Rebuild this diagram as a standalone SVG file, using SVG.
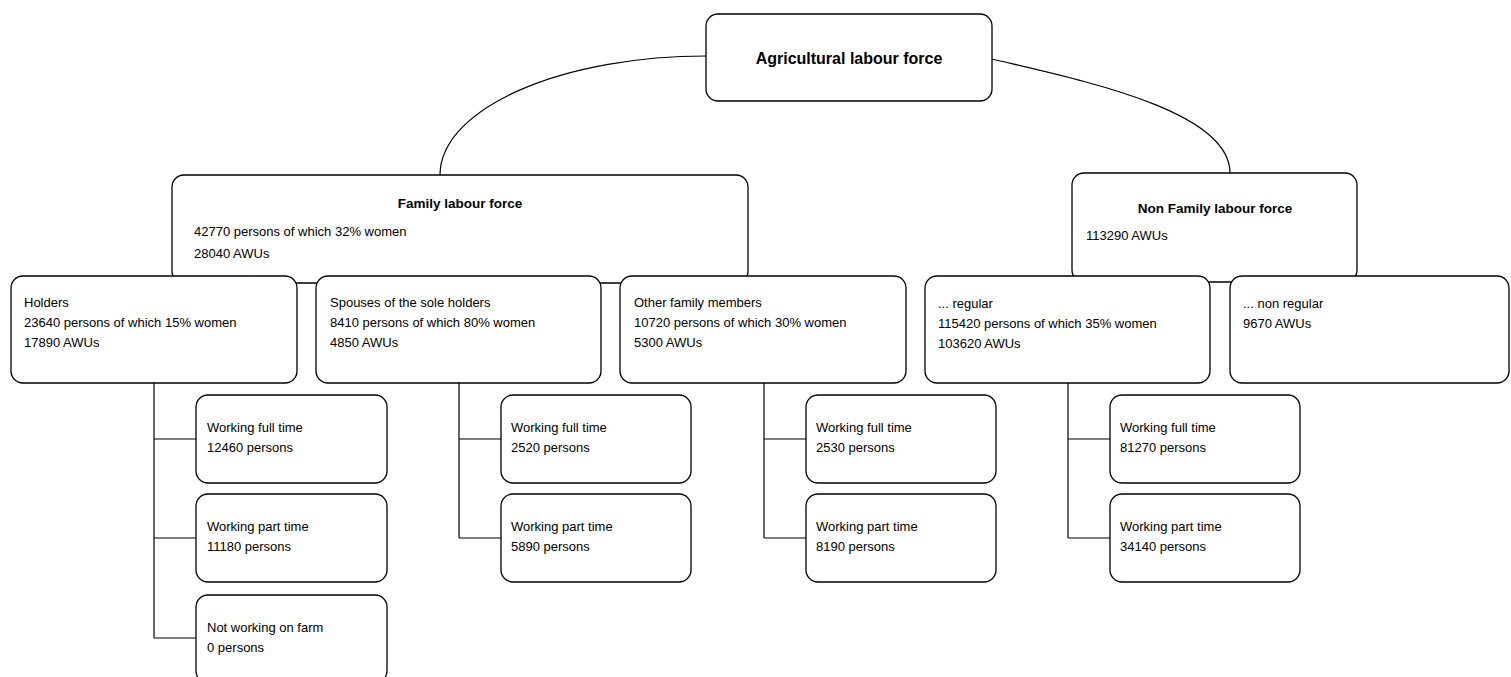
<svg xmlns="http://www.w3.org/2000/svg" width="1511" height="677" viewBox="0 0 1511 677">
<style>
  .box { fill: #ffffff; stroke: #000000; stroke-width: 1.3; }
  .conn { fill: none; stroke: #000000; stroke-width: 1.2; }
  .t { font-family: "Liberation Sans", Arial, sans-serif; font-size: 13px; fill: #000000; }
  .tb { font-family: "Liberation Sans", Arial, sans-serif; font-size: 13.5px; font-weight: bold; fill: #000000; text-anchor: middle; }
  .ttop { font-family: "Liberation Sans", Arial, sans-serif; font-size: 16px; font-weight: bold; fill: #000000; text-anchor: middle; }
</style>
<rect width="1511" height="677" fill="#ffffff"/>
<g id="connectors">
  <path class="conn" d="M706,56 A266,119 0 0 0 440,175"/>
  <path class="conn" d="M992,59 C1080,80 1230,110 1230,173"/>
  <path class="conn" d="M154,383 V638 M154,439 H196 M154,538 H196 M154,638 H196"/>
  <path class="conn" d="M459,383 V538 M459,439 H501 M459,538 H501"/>
  <path class="conn" d="M764,383 V538 M764,439 H806 M764,538 H806"/>
  <path class="conn" d="M1068,383 V538 M1068,439 H1110 M1068,538 H1110"/>
</g>
<g id="node-agri">
  <rect class="box" x="706" y="14" width="286" height="87" rx="12"/>
  <text class="ttop" x="849" y="64">Agricultural labour force</text>
</g>
<g id="node-family">
  <rect class="box" x="172" y="175" width="576" height="108" rx="12"/>
  <text class="tb" x="460" y="208">Family labour force</text>
  <text class="t" x="194" y="236">42770 persons of which 32% women</text>
  <text class="t" x="194" y="258">28040 AWUs</text>
</g>
<g id="node-nonfamily">
  <rect class="box" x="1072" y="173" width="285" height="109" rx="12"/>
  <text class="tb" x="1215" y="213">Non Family labour force</text>
  <text class="t" x="1086" y="240">113290 AWUs</text>
</g>
<g id="node-holders">
  <rect class="box" x="11" y="276" width="286" height="107" rx="12"/>
  <text class="t" x="24" y="307">Holders</text>
  <text class="t" x="24" y="327">23640 persons of which 15% women</text>
  <text class="t" x="24" y="347">17890 AWUs</text>
</g>
<g id="node-spouses">
  <rect class="box" x="316" y="276" width="285" height="107" rx="12"/>
  <text class="t" x="330" y="307">Spouses of the sole holders</text>
  <text class="t" x="330" y="327">8410 persons of which 80% women</text>
  <text class="t" x="330" y="347">4850 AWUs</text>
</g>
<g id="node-other">
  <rect class="box" x="620" y="276" width="286" height="107" rx="12"/>
  <text class="t" x="634" y="307">Other family members</text>
  <text class="t" x="634" y="327">10720 persons of which 30% women</text>
  <text class="t" x="634" y="347">5300 AWUs</text>
</g>
<g id="node-regular">
  <rect class="box" x="925" y="276" width="285" height="107" rx="12"/>
  <text class="t" x="938" y="308">... regular</text>
  <text class="t" x="938" y="328">115420 persons of which 35% women</text>
  <text class="t" x="938" y="348">103620 AWUs</text>
</g>
<g id="node-nonregular">
  <rect class="box" x="1230" y="276" width="279" height="107" rx="12"/>
  <text class="t" x="1243" y="308">... non regular</text>
  <text class="t" x="1243" y="328">9670 AWUs</text>
</g>
<g id="node-holders-full">
  <rect class="box" x="196" y="395" width="191" height="88" rx="12"/>
  <text class="t" x="207" y="432">Working full time</text>
  <text class="t" x="207" y="452">12460 persons</text>
</g>
<g id="node-holders-part">
  <rect class="box" x="196" y="494" width="191" height="88" rx="12"/>
  <text class="t" x="207" y="531">Working part time</text>
  <text class="t" x="207" y="551">11180 persons</text>
</g>
<g id="node-holders-not">
  <rect class="box" x="196" y="595" width="191" height="88" rx="12"/>
  <text class="t" x="207" y="632">Not working on farm</text>
  <text class="t" x="207" y="652">0 persons</text>
</g>
<g id="node-spouses-full">
  <rect class="box" x="501" y="395" width="190" height="88" rx="12"/>
  <text class="t" x="511" y="432">Working full time</text>
  <text class="t" x="511" y="452">2520 persons</text>
</g>
<g id="node-spouses-part">
  <rect class="box" x="501" y="494" width="190" height="88" rx="12"/>
  <text class="t" x="511" y="531">Working part time</text>
  <text class="t" x="511" y="551">5890 persons</text>
</g>
<g id="node-other-full">
  <rect class="box" x="806" y="395" width="190" height="88" rx="12"/>
  <text class="t" x="816" y="432">Working full time</text>
  <text class="t" x="816" y="452">2530 persons</text>
</g>
<g id="node-other-part">
  <rect class="box" x="806" y="494" width="190" height="88" rx="12"/>
  <text class="t" x="816" y="531">Working part time</text>
  <text class="t" x="816" y="551">8190 persons</text>
</g>
<g id="node-regular-full">
  <rect class="box" x="1110" y="395" width="190" height="88" rx="12"/>
  <text class="t" x="1120" y="432">Working full time</text>
  <text class="t" x="1120" y="452">81270 persons</text>
</g>
<g id="node-regular-part">
  <rect class="box" x="1110" y="494" width="190" height="88" rx="12"/>
  <text class="t" x="1120" y="531">Working part time</text>
  <text class="t" x="1120" y="551">34140 persons</text>
</g>
</svg>
